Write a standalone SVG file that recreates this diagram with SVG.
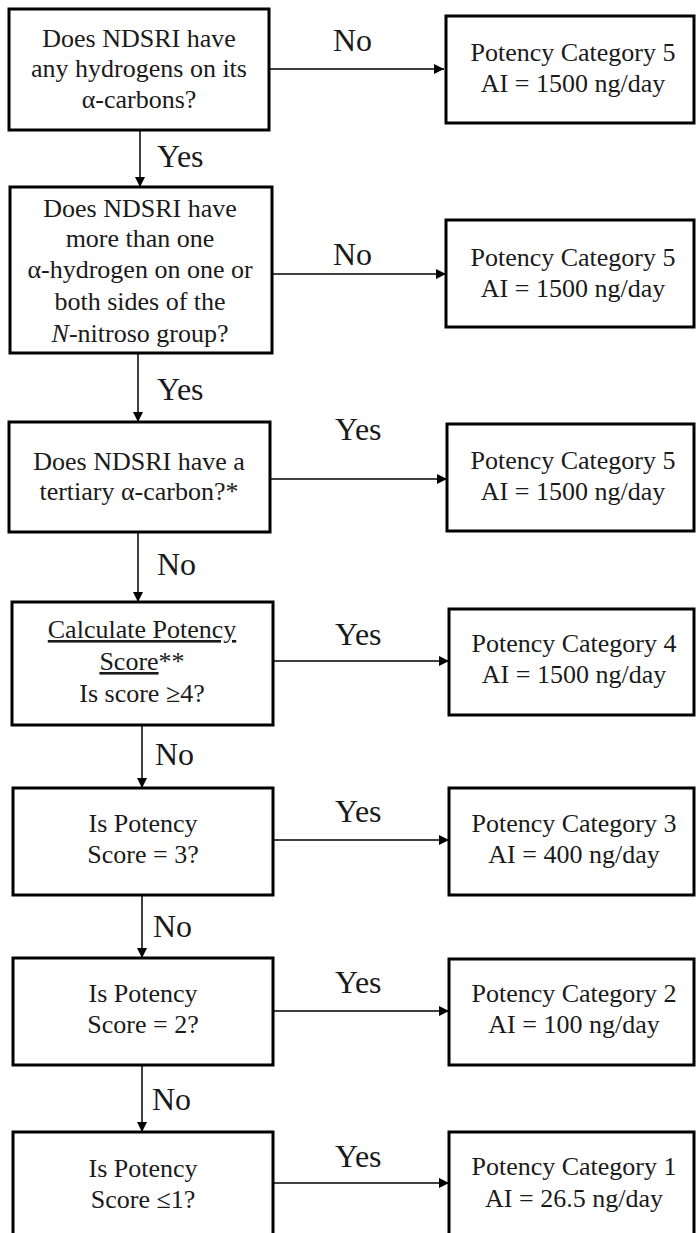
<svg xmlns="http://www.w3.org/2000/svg" width="700" height="1233" viewBox="0 0 700 1233">
<style>
.box{fill:#fff;stroke:#000;stroke-width:3}
.t{font-family:"Liberation Serif","Times New Roman",serif;font-size:26px;fill:#1a1a1a;text-anchor:middle}
.lbl{font-family:"Liberation Serif","Times New Roman",serif;font-size:32px;fill:#1a1a1a}
.c{stroke:#000;stroke-width:1.5;fill:none}
</style>
<defs>
<marker id="ah" viewBox="0 0 10 10" refX="10" refY="5" markerWidth="11" markerHeight="10" markerUnits="userSpaceOnUse" orient="auto">
<path d="M0,0 L10,5 L0,10 Z" fill="#000"/>
</marker>
</defs>
<rect width="700" height="1233" fill="#fff"/>
<g id="connectors">
<line class="c" x1="270" y1="69" x2="444" y2="69" marker-end="url(#ah)"/>
<line class="c" x1="140" y1="130" x2="140" y2="187" marker-end="url(#ah)"/>
<line class="c" x1="272" y1="274" x2="446" y2="274" marker-end="url(#ah)"/>
<line class="c" x1="138" y1="353" x2="138" y2="422" marker-end="url(#ah)"/>
<line class="c" x1="270" y1="479" x2="447" y2="479" marker-end="url(#ah)"/>
<line class="c" x1="138" y1="532" x2="138" y2="602" marker-end="url(#ah)"/>
<line class="c" x1="273" y1="661" x2="449" y2="661" marker-end="url(#ah)"/>
<line class="c" x1="142" y1="725" x2="142" y2="788" marker-end="url(#ah)"/>
<line class="c" x1="273" y1="840" x2="449" y2="840" marker-end="url(#ah)"/>
<line class="c" x1="142" y1="895" x2="142" y2="958" marker-end="url(#ah)"/>
<line class="c" x1="273" y1="1011" x2="449" y2="1011" marker-end="url(#ah)"/>
<line class="c" x1="142" y1="1065" x2="142" y2="1132" marker-end="url(#ah)"/>
<line class="c" x1="273" y1="1183" x2="449" y2="1183" marker-end="url(#ah)"/>
<text class="lbl" x="333" y="51">No</text>
<text class="lbl" x="157" y="167">Yes</text>
<text class="lbl" x="333" y="265">No</text>
<text class="lbl" x="157" y="400">Yes</text>
<text class="lbl" x="335" y="440">Yes</text>
<text class="lbl" x="157" y="575">No</text>
<text class="lbl" x="335" y="645">Yes</text>
<text class="lbl" x="155" y="765">No</text>
<text class="lbl" x="335" y="822">Yes</text>
<text class="lbl" x="153" y="937">No</text>
<text class="lbl" x="335" y="993">Yes</text>
<text class="lbl" x="152" y="1110">No</text>
<text class="lbl" x="335" y="1167">Yes</text>
</g>
<g id="q1">
<rect class="box" x="9" y="9" width="260" height="121"/>
<text class="t" x="139" y="47">Does NDSRI have</text>
<text class="t" x="139" y="77">any hydrogens on its</text>
<text class="t" x="139" y="108">α-carbons?</text>
</g>
<g id="r1">
<rect class="box" x="446" y="16" width="248" height="107"/>
<text class="t" x="573" y="61">Potency Category 5</text>
<text class="t" x="573" y="92">AI = 1500 ng/day</text>
</g>
<g id="q2">
<rect class="box" x="10" y="187" width="262" height="166"/>
<text class="t" x="140" y="217">Does NDSRI have</text>
<text class="t" x="140" y="247">more than one</text>
<text class="t" x="140" y="278">α-hydrogen on one or</text>
<text class="t" x="140" y="310">both sides of the</text>
<text class="t" x="140" y="342"><tspan font-style="italic">N</tspan>-nitroso group?</text>
</g>
<g id="r2">
<rect class="box" x="446" y="220" width="248" height="107"/>
<text class="t" x="573" y="266">Potency Category 5</text>
<text class="t" x="573" y="297">AI = 1500 ng/day</text>
</g>
<g id="q3">
<rect class="box" x="9" y="422" width="261" height="110"/>
<text class="t" x="139" y="470">Does NDSRI have a</text>
<text class="t" x="139" y="500">tertiary α-carbon?*</text>
</g>
<g id="r3">
<rect class="box" x="447" y="424" width="247" height="107"/>
<text class="t" x="573" y="469">Potency Category 5</text>
<text class="t" x="573" y="500">AI = 1500 ng/day</text>
</g>
<g id="q4">
<rect class="box" x="12" y="602" width="261" height="123"/>
<text class="t" x="142" y="638" text-decoration="underline">Calculate Potency</text>
<text class="t" x="142" y="670"><tspan text-decoration="underline">Score</tspan>**</text>
<text class="t" x="142" y="702">Is score ≥4?</text>
</g>
<g id="r4">
<rect class="box" x="449" y="609" width="245" height="106"/>
<text class="t" x="574" y="652">Potency Category 4</text>
<text class="t" x="574" y="683">AI = 1500 ng/day</text>
</g>
<g id="q5">
<rect class="box" x="13" y="788" width="260" height="107"/>
<text class="t" x="143" y="832">Is Potency</text>
<text class="t" x="143" y="863">Score = 3?</text>
</g>
<g id="r5">
<rect class="box" x="449" y="788" width="245" height="107"/>
<text class="t" x="574" y="832">Potency Category 3</text>
<text class="t" x="574" y="863">AI = 400 ng/day</text>
</g>
<g id="q6">
<rect class="box" x="13" y="958" width="260" height="107"/>
<text class="t" x="143" y="1002">Is Potency</text>
<text class="t" x="143" y="1033">Score = 2?</text>
</g>
<g id="r6">
<rect class="box" x="449" y="959" width="245" height="106"/>
<text class="t" x="574" y="1002">Potency Category 2</text>
<text class="t" x="574" y="1033">AI = 100 ng/day</text>
</g>
<g id="q7">
<rect class="box" x="13" y="1132" width="260" height="110"/>
<text class="t" x="143" y="1177">Is Potency</text>
<text class="t" x="143" y="1208">Score ≤1?</text>
</g>
<g id="r7">
<rect class="box" x="449" y="1132" width="245" height="110"/>
<text class="t" x="574" y="1175">Potency Category 1</text>
<text class="t" x="574" y="1207">AI = 26.5 ng/day</text>
</g>
</svg>
